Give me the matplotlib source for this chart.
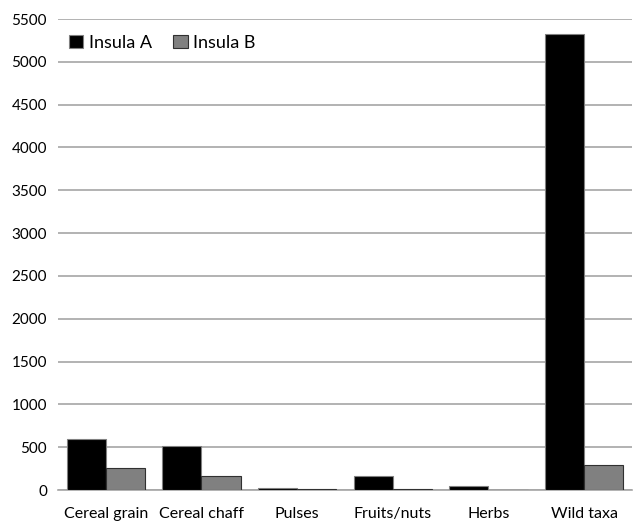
import numpy as np
import matplotlib
matplotlib.use("Agg")
import matplotlib.pyplot as plt

categories = ["Cereal grain", "Cereal chaff", "Pulses", "Fruits/nuts", "Herbs", "Wild taxa"]
insula_a = [590, 510, 20, 160, 50, 5330]
insula_b = [255, 165, 12, 8, 0, 290]

plt.rcParams["font.family"] = ["Lato", "DejaVu Sans"]

fig = plt.figure(figsize=(6.36, 5.22), dpi=100)
ax = fig.add_axes([58 / 636, 32 / 522, 574 / 636, 471 / 522])

x = np.arange(len(categories))
w = 0.41
ax.bar(x - w / 2, insula_a, w, color="black", edgecolor="#808080", linewidth=0.8, label="Insula A", zorder=3)
ax.bar(x + w / 2, insula_b, w, color="#808080", edgecolor="#303030", linewidth=0.8, label="Insula B", zorder=3)

ax.set_xlim(-0.5, len(categories) - 0.5)
ax.set_ylim(0, 5500)
ax.set_yticks(range(0, 5501, 500))
ax.set_xticks(x)
ax.set_xticklabels(categories)
ax.yaxis.grid(True, color="#a6a6a6", linewidth=1.2, zorder=0)
for s in ["top", "right", "left"]:
    ax.spines[s].set_visible(False)
ax.spines["bottom"].set_color("#a6a6a6")
ax.spines["bottom"].set_linewidth(1.2)
ax.tick_params(axis="y", length=0, labelsize=11, pad=8)
ax.tick_params(axis="x", length=0, labelsize=11.5, pad=12)

ax.legend(loc="upper left", bbox_to_anchor=(0.0, 0.99), ncol=2, frameon=False,
          fontsize=13, handlelength=0.8, handleheight=0.8, handletextpad=0.3,
          columnspacing=1.2, borderaxespad=0.2)

fig.savefig("out.png", dpi=100)
